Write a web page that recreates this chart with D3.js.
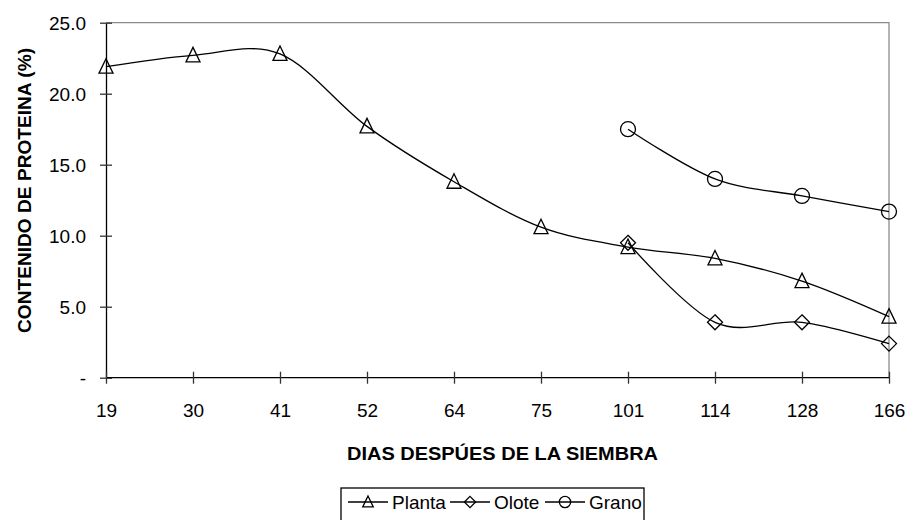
<!DOCTYPE html>
<html>
<head>
<meta charset="utf-8">
<script src="https://cdn.jsdelivr.net/npm/d3@7"></script>
<style>
  html, body { margin: 0; padding: 0; background: #fff; }
  svg { display: block; font-family: "Liberation Sans", Arial, sans-serif; }
</style>
</head>
<body>
<svg id="chart" width="909" height="520"></svg>
<script>
// Days after sowing (categorical axis)
const days = ["19", "30", "41", "52", "64", "75", "101", "114", "128", "166"];

// Protein content (%) per plant part; null where not sampled
const planta = [21.9, 22.7, 22.8, 17.7, 13.8, 10.6, 9.2, 8.4, 6.8, 4.3];
const olote  = [null, null, null, null, null, null, 9.5, 3.9, 3.9, 2.4];
const grano  = [null, null, null, null, null, null, 17.5, 14.0, 12.8, 11.7];

const yTicks = [0, 5, 10, 15, 20, 25];

const series = [
  { name: "Planta", values: planta, symbol: "triangle" },
  { name: "Olote",  values: olote,  symbol: "diamond" },
  { name: "Grano",  values: grano,  symbol: "circle" }
];

const svg = d3.select("#chart");
const m = { left: 106, right: 889, top: 22.7, bottom: 377.7 };

const x = d3.scalePoint().domain(days).range([m.left, m.right]).padding(0);
const y = d3.scaleLinear().domain([0, 25]).range([m.bottom, m.top]);

// Plot frame: grey top and right edges
svg.append("path")
  .attr("d", `M${m.left},${m.top}H${m.right}V${m.bottom}`)
  .attr("fill", "none").attr("stroke", "#8c8c8c").attr("stroke-width", 1.3);

// Y axis
const yAxis = svg.append("g").attr("transform", `translate(${m.left},0)`)
  .call(d3.axisLeft(y).tickValues(yTicks).tickSizeInner(6).tickSizeOuter(0)
    .tickFormat(d => d === 0 ? "-" : d3.format(".1f")(d)));
yAxis.select(".domain").attr("stroke", "#000").attr("stroke-width", 1.3);
yAxis.selectAll(".tick line").attr("x1", -6).attr("x2", 6)
  .attr("stroke", "#333").attr("stroke-width", 1.3);
yAxis.selectAll(".tick text").attr("x", -20).attr("dy", "0.36em")
  .attr("font-size", 19).attr("fill", "#000");

// X axis
const xAxis = svg.append("g").attr("transform", `translate(0,${m.bottom})`)
  .call(d3.axisBottom(x).tickSizeInner(6).tickSizeOuter(0));
xAxis.select(".domain").attr("stroke", "#000").attr("stroke-width", 1.3)
  .attr("d", `M${m.left},0H${m.right}`);
xAxis.selectAll(".tick line").attr("y1", -6).attr("y2", 6)
  .attr("stroke", "#333").attr("stroke-width", 1.3);
xAxis.selectAll(".tick text").attr("y", 26).attr("dy", "0.71em")
  .attr("font-size", 19).attr("fill", "#000");

// Axis titles
svg.append("text")
  .attr("transform", `translate(24,190.5) rotate(-90)`)
  .attr("text-anchor", "middle").attr("dy", "0.35em")
  .attr("font-size", 19).attr("font-weight", "bold")
  .attr("textLength", 285).attr("lengthAdjust", "spacingAndGlyphs")
  .text("CONTENIDO DE PROTEINA (%)");

svg.append("text")
  .attr("x", 502.5).attr("y", 453)
  .attr("text-anchor", "middle").attr("dy", "0.35em")
  .attr("font-size", 19).attr("font-weight", "bold")
  .attr("textLength", 311).attr("lengthAdjust", "spacingAndGlyphs")
  .text("DIAS DESPÚES DE LA SIEMBRA");

// Marker shapes
function marker(g, type, k = 1) {
  if (type === "triangle") {
    g.append("path").attr("d", `M0,${-8 * k}L${7 * k},${6.5 * k}H${-7 * k}Z`);
  } else if (type === "diamond") {
    g.append("path").attr("d", `M0,${-7.5 * k}L${7.5 * k},0L0,${7.5 * k}L${-7.5 * k},0Z`);
  } else {
    g.append("circle").attr("r", 7.5 * k);
  }
  g.selectAll("path,circle").attr("fill", "none").attr("stroke", "#000").attr("stroke-width", 1.3);
}

// Smoothed lines
const line = d3.line()
  .defined(d => d.v != null)
  .x(d => x(d.day)).y(d => y(d.v))
  .curve(d3.curveCatmullRom.alpha(0));

series.forEach(s => {
  const pts = s.values.map((v, i) => ({ day: days[i], v }));
  svg.append("path").datum(pts)
    .attr("d", line)
    .attr("fill", "none").attr("stroke", "#000").attr("stroke-width", 1.3);
  pts.filter(d => d.v != null).forEach(d => {
    const g = svg.append("g").attr("transform", `translate(${x(d.day)},${y(d.v)})`);
    marker(g, s.symbol);
  });
});

// Legend
const lg = svg.append("g");
lg.append("rect").attr("x", 341).attr("y", 488).attr("width", 303).attr("height", 45)
  .attr("fill", "#fff").attr("stroke", "#000").attr("stroke-width", 1.3);
const legendX = [348, 450, 545];
series.forEach((s, i) => {
  const gx = legendX[i], gy = 502;
  lg.append("line").attr("x1", gx).attr("x2", gx + 40).attr("y1", gy).attr("y2", gy)
    .attr("stroke", "#000").attr("stroke-width", 1.3);
  const g = lg.append("g").attr("transform", `translate(${gx + 20},${gy})`);
  marker(g, s.symbol, 0.75);
  lg.append("text").attr("x", gx + 44).attr("y", gy).attr("dy", "0.35em")
    .attr("font-size", 19).text(s.name);
});
</script>
</body>
</html>
